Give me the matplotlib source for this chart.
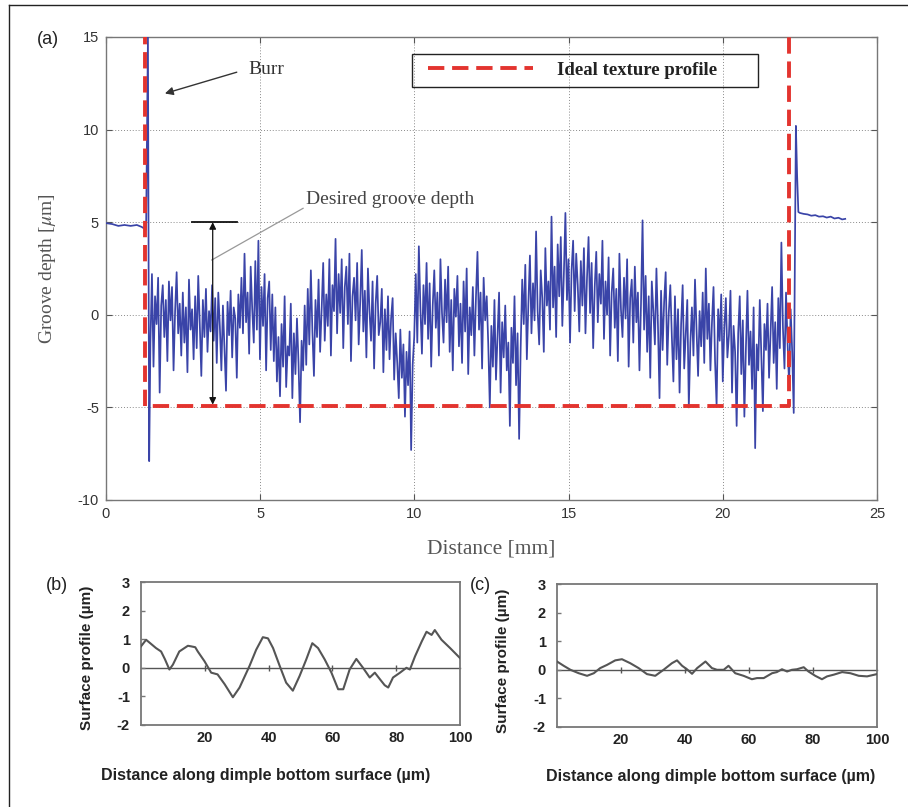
import numpy as np
import matplotlib
matplotlib.use("Agg")
import matplotlib.pyplot as plt
from matplotlib.patches import Rectangle
from matplotlib.lines import Line2D

# ---------------- Panel (a) data ----------------
left_flat_x = [0.0, 0.2, 0.4, 0.6, 0.8, 1.0, 1.15, 1.3]
left_flat_y = [4.95, 4.9, 4.8, 4.85, 4.8, 4.85, 4.75, 4.6]
burr_x = [1.36, 1.40]
burr_y = [15.0, -7.9]
groove_start, groove_end = 1.44, 22.30
groove_y = [
    -1.5, 2.2, -2.8, 1.0, -0.5, 2.0, -4.2, 0.5, 1.6, -1.2, 0.8, -2.5, 1.8, -0.3, 1.5, -3.0, 0.2, 2.3, -1.0, 0.6,
    -2.2, 1.2, -1.5, 0.4, -3.1, 1.9, -0.8, 0.3, -2.4, 1.0, -1.8, 2.1, -0.5, -3.3, 0.8, -1.2, 1.4, -2.0, 0.2, -0.9,
    1.6, -1.4, 0.9, -2.6, 1.2, -0.6, -3.0, 0.5, -1.8, -4.1, 0.7, -1.1, 1.3, -2.3, 0.4, -0.2, -3.4, 1.1, -0.7, 2.0,
    -1.0, 3.3, -0.4, 1.2, -2.1, 2.6, 0.3, -1.5, 2.9, -0.8, 4.0, -2.4, 1.5, -0.6, 2.2, -3.0, 0.9, 1.8, -1.9, 1.1,
    -2.5, 0.4, -3.6, -1.2, -4.4, -0.5, -2.8, 1.0, -3.9, -1.7, -2.2, 0.6, -4.5, -1.0, -3.2, -0.2, -2.6, -5.8, -1.4, -3.0,
    0.5, -2.7, 1.4, -1.6, 2.4, -0.9, -3.3, 0.8, -1.2, 1.9, -2.0, 0.3, 2.8, -1.4, 1.1, -0.6, 3.0, -2.2, 1.6, 0.2,
    4.1, -1.0, 2.2, 0.1, 3.0, -1.8, 1.5, 2.6, -0.5, 3.3, -2.5, 1.0, 2.0, -0.3, 2.8, -1.6, 0.7, 3.5, -0.9, 1.3,
    -2.3, 2.5, 0.2, -1.4, 1.8, -2.9, 0.6, 2.1, -1.1, -0.4, 1.4, -3.1, 0.3, -1.9, 1.0, -2.4, -0.2, 0.9, -3.5, -1.0,
    -2.6, -4.5, -0.8, -3.4, -1.6, -5.5, -2.0, -3.8, -0.9, -7.3, -2.7, -1.2, 2.2, -1.5, 3.7, 0.4, -2.1, 1.6, -0.5, 2.8,
    -1.3, 1.7, -2.8, 0.5, 2.4, -0.7, 1.2, -2.2, 3.0, 0.1, -1.5, 1.9, -0.4, 2.6, -2.0, 0.8, -3.0, 1.4, -0.1, 2.1,
    -1.7, 0.6, -2.6, 1.8, -0.9, 2.5, -3.2, 0.4, -1.1, 1.5, -2.2, 0.9, 3.4, -0.8, 1.2, -2.9, 2.0, -0.3, 1.0, -1.6,
    -5.0, -0.6, -2.8, 0.8, -3.5, -1.2, 1.2, -4.2, -0.4, -2.3, 0.5, -3.0, -1.5, -6.0, -0.7, -2.6, 1.0, -3.8, -1.0, -6.7,
    -1.8, 1.9, -0.5, 2.7, -2.4, 0.6, 3.2, -1.0, 1.7, -0.3, 4.5, 0.2, -1.6, 2.4, 0.9, -2.0, 3.6, 0.5, 1.8, -0.8,
    5.3, 0.4, 2.6, -1.2, 3.8, 1.0, 4.2, -0.6, 2.2, 5.5, 0.8, 3.0, -1.5, 2.4, 4.0, 0.2, 3.3, 1.6, -0.9, 2.9,
    0.5, 3.6, -1.0, 2.0, 4.2, 0.1, 2.8, -1.8, 1.5, 3.4, -0.4, 2.2, 0.6, 4.0, -1.3, 1.8, 0.0, 3.1, -2.2, 1.2,
    2.5, -0.7, 1.4, -2.5, 3.3, 0.3, -1.2, 2.0, -0.2, 3.0, -2.8, 0.9, 1.9, -1.5, 2.6, -0.4, 1.2, -3.0, 0.6, 5.1,
    -0.8, 2.1, -2.0, 1.0, -3.4, 1.8, 0.2, -1.6, 2.5, -0.6, -4.5, 1.3, -1.9, 0.7, 2.3, -2.7, 0.1, 1.6, -1.2, -3.6,
    1.0, -2.4, 0.3, -4.2, -0.5, 1.6, -2.9, -1.0, 0.8, -5.0, -1.5, 0.4, -2.2, 1.9, -0.8, -3.3, 0.2, -1.7, 1.2, -2.6,
    2.5, -1.3, 0.6, -3.0, -0.4, 1.5, -2.5, -4.9, 0.3, -1.4, 1.1, -3.6, -0.7, 0.9, -2.3, -1.1, 1.3, -4.2, -0.6, -2.0,
    -6.0, -1.0, 1.0, -3.2, -0.3, -5.5, -1.8, 1.3, -2.7, -0.9, -4.0, 0.4, -7.2, -1.6, -3.0, 0.8, -2.2, -5.2, -0.5, -1.9,
    0.6, -3.4, -1.0, 1.5, -2.6, -0.4, -4.0, 0.9, -1.8, 3.9, -0.7, -2.9, 1.2, -1.5, -3.8, 0.3, -2.0, -5.3,
]
rise_x = [22.37, 22.41, 22.45]
rise_y = [10.2, 7.5, 5.55]
right_flat_x = [22.5, 22.62, 22.75, 22.87, 23.0, 23.12, 23.25, 23.37, 23.5, 23.62, 23.75, 23.87, 23.97]
right_flat_y = [5.5, 5.45, 5.42, 5.35, 5.38, 5.3, 5.32, 5.25, 5.3, 5.2, 5.24, 5.15, 5.18]

ideal_x = [1.25, 1.25, 22.15, 22.15]
ideal_y = [15.5, -4.9, -4.9, 15.5]
ideal_label = "Ideal texture profile"

a_xticks = [0, 5, 10, 15, 20, 25]
a_yticks = [-10, -5, 0, 5, 10, 15]

# ---------------- Panel (b) data ----------------
b_x = [0, 1.6, 3.0, 4.7, 6.3, 7.5, 8.9, 10.0, 12.0, 14.7, 15.7, 17.0, 17.8, 19.9, 22.0, 24.0,
       26.2, 27.5, 28.8, 30.9, 34.0, 36.1, 38.2, 39.8, 41.4, 43.5, 45.5, 47.6, 49.7, 51.8,
       53.7, 55.5, 57.6, 59.7, 61.8, 63.4, 65.4, 67.5, 69.6, 71.7, 73.3, 74.9, 76.4, 77.5,
       79.0, 81.2, 83.2, 84.3, 85.9, 88.0, 89.5, 91.1, 92.1, 94.2, 96.9, 100]
b_y = [0.75, 0.98, 0.85, 0.69, 0.57, 0.3, -0.06, 0.11, 0.57, 0.77, 0.75, 0.72, 0.57, 0.23, -0.17, -0.23,
       -0.57, -0.8, -1.03, -0.69, 0.06, 0.63, 1.07, 1.03, 0.69, 0.06, -0.52, -0.8, -0.29, 0.29,
       0.86, 0.69, 0.29, -0.17, -0.75, -0.75, -0.06, 0.31, 0.0, -0.34, -0.17, -0.40, -0.61, -0.69,
       -0.34, -0.17, 0.0, -0.06, 0.40, 0.92, 1.26, 1.15, 1.32, 0.98, 0.69, 0.34]

# ---------------- Panel (c) data ----------------
c_x = [0, 2.1, 4.2, 6.8, 9.4, 11.5, 13.5, 15.6, 18.2, 20.3, 22.9, 25.5, 28.1, 30.7, 33.3, 35.9,
       37.5, 39.1, 40.6, 42.2, 43.8, 46.4, 48.4, 50.0, 52.1, 53.6, 55.7, 58.3, 60.9, 62.5,
       64.6, 67.2, 68.7, 70.3, 71.9, 73.4, 75.0, 77.1, 78.6, 80.7, 82.8, 84.4, 86.5, 89.1,
       91.7, 94.3, 96.9, 100]
c_y = [0.29, 0.14, 0.0, -0.12, -0.21, -0.12, 0.06, 0.17, 0.33, 0.37, 0.23, 0.06, -0.15, -0.21, 0.0, 0.23,
       0.33, 0.14, 0.02, -0.14, 0.06, 0.29, 0.06, 0.0, 0.0, 0.14, -0.12, -0.21, -0.33, -0.29,
       -0.29, -0.12, -0.08, 0.02, -0.06, 0.0, 0.02, 0.09, -0.06, -0.21, -0.33, -0.23, -0.17, -0.08,
       -0.12, -0.21, -0.23, -0.15]
bc_xticks = [20, 40, 60, 80, 100]
bc_yticks = [-2, -1, 0, 1, 2, 3]

# ---------------- Figure ----------------
plt.rcParams["mathtext.fontset"] = "stix"
plt.rcParams["axes.unicode_minus"] = False
SERIF = ["Liberation Serif", "DejaVu Serif"]
SANS = ["Liberation Sans", "DejaVu Sans"]

fig = plt.figure(figsize=(9.08, 8.07), dpi=100)
fig.patch.set_facecolor("white")

# frame lines of the scanned figure
fig.add_artist(Line2D([9 / 908, 1.0], [1 - 5 / 807, 1 - 5 / 807], color="#222", lw=1.0,
                      transform=fig.transFigure))
fig.add_artist(Line2D([9 / 908, 9 / 908], [0.0, 1 - 5 / 807], color="#222", lw=1.0,
                      transform=fig.transFigure))

# ---- (a)
ax = fig.add_axes([106 / 908, 1 - 500 / 807, 771 / 908, 463 / 807])
groove_x = np.linspace(groove_start, groove_end, len(groove_y))
prof_x = np.concatenate([left_flat_x, burr_x, groove_x, rise_x, right_flat_x])
prof_y = np.concatenate([left_flat_y, burr_y, groove_y, rise_y, right_flat_y])
ax.plot(prof_x, prof_y, color="#3a44a8", lw=1.25, zorder=3)
red_line, = ax.plot(ideal_x, ideal_y, color="#e3342f", lw=2.8, linestyle=(0, (4.2, 2.0)),
                    zorder=4, label=ideal_label)
ax.set_xlim(0, 25)
ax.set_ylim(-10, 15)
ax.set_xticks(a_xticks)
ax.set_yticks(a_yticks)
ax.grid(True, linestyle=(0, (1, 2)), color="#8a8a8a", lw=0.7)
ax.tick_params(direction="in", top=True, right=True, length=4, width=0.8, color="#555",
               labelsize=10.5, labelcolor="#333", pad=5)
for lab in ax.get_xticklabels() + ax.get_yticklabels():
    lab.set_family(SANS)
for s in ax.spines.values():
    s.set_color("#777")
    s.set_linewidth(1.0)
ax.set_ylabel(r"Groove depth [$\mu$m]", family=SERIF, fontsize=14, color="#555")
ax.yaxis.set_label_coords(-0.062, 0.5)
ax.set_xlabel("Distance [mm]", family=SERIF, fontsize=15.5, color="#555")
ax.xaxis.set_label_coords(0.5, -0.085)

# legend
leg = ax.legend(handles=[red_line], labels=[ideal_label], loc="center left",
                bbox_to_anchor=(0.4176, 0.928), frameon=False, borderpad=0, borderaxespad=0,
                handlelength=5.6, handletextpad=1.3,
                prop={"family": SERIF, "size": 13.5, "weight": "bold"})
for t in leg.get_texts():
    t.set_color("#222")
ax.add_patch(Rectangle((0.397, 0.892), 0.449, 0.071, transform=ax.transAxes, fill=False,
                       edgecolor="#222", lw=1.0, zorder=6))

# annotations
ax.text(4.62, 13.25, "Burr", family=SERIF, fontsize=14, color="#333", ha="left", va="center")
ax.annotate("", xy=(1.91, 11.95), xytext=(4.24, 13.1),
            arrowprops=dict(arrowstyle="-|>", color="#333", lw=1.0, mutation_scale=12,
                            shrinkA=0, shrinkB=0))
ax.text(6.5, 6.2, "Desired groove depth", family=SERIF, fontsize=14, color="#444",
        ha="left", va="center")
ax.plot([6.39, 3.43], [5.75, 2.96], color="#999", lw=0.9, zorder=5)
ax.plot([2.78, 4.24], [5.0, 5.0], color="#111", lw=1.3, zorder=5)
ax.annotate("", xy=(3.46, 5.0), xytext=(3.46, -4.85),
            arrowprops=dict(arrowstyle="<|-|>", color="#111", lw=0.9, mutation_scale=10,
                            shrinkA=0, shrinkB=0), zorder=5)


def small_panel(rect, xs, ys, ylabel_xy, xlabel_xy):
    a = fig.add_axes(rect)
    a.plot(xs, ys, color="#555", lw=1.5, zorder=3)
    a.set_xlim(0, 100)
    a.set_ylim(-2, 3)
    a.set_xticks(bc_xticks)
    a.set_yticks(bc_yticks)
    a.tick_params(axis="x", direction="in", length=0, pad=4, labelsize=10.5, labelcolor="#222")
    a.tick_params(axis="y", direction="in", length=3, width=1, color="#777", pad=8,
                  labelsize=10.5, labelcolor="#222")
    for lab in a.get_xticklabels() + a.get_yticklabels():
        lab.set_family(SANS)
        lab.set_fontweight("bold")
    for s in a.spines.values():
        s.set_color("#777")
        s.set_linewidth(1.3)
    zero_ax = a.secondary_xaxis(2 / 5)
    zero_ax.set_xticks(bc_xticks[:-1])
    zero_ax.tick_params(direction="inout", length=4, width=1, color="#555", labelbottom=False,
                        labeltop=False)
    zero_ax.spines["bottom"].set_color("#555")
    zero_ax.spines["bottom"].set_linewidth(1.0)
    a.set_ylabel("Surface profile (µm)", family=SANS, fontweight="bold", fontsize=11, color="#222")
    a.yaxis.set_label_coords(*ylabel_xy)
    a.set_xlabel("Distance along dimple bottom surface (µm)", family=SANS, fontweight="bold",
                 fontsize=11.5, color="#222")
    a.xaxis.set_label_coords(*xlabel_xy)
    return a


small_panel([141 / 908, 1 - 725 / 807, 319 / 908, 143 / 807], b_x, b_y, (-0.147, 0.47), (0.39, -0.30))
small_panel([557 / 908, 1 - 727 / 807, 320 / 908, 143 / 807], c_x, c_y, (-0.147, 0.46), (0.48, -0.295))

fig.text(48 / 908, 1 - 40 / 807, "(a)", family=SANS, fontsize=13, color="#222", ha="center", va="center")
fig.text(57 / 908, 1 - 586 / 807, "(b)", family=SANS, fontsize=13, color="#222", ha="center", va="center")
fig.text(480 / 908, 1 - 586 / 807, "(c)", family=SANS, fontsize=13, color="#222", ha="center", va="center")

fig.savefig("out.png", dpi=100, facecolor="white")
